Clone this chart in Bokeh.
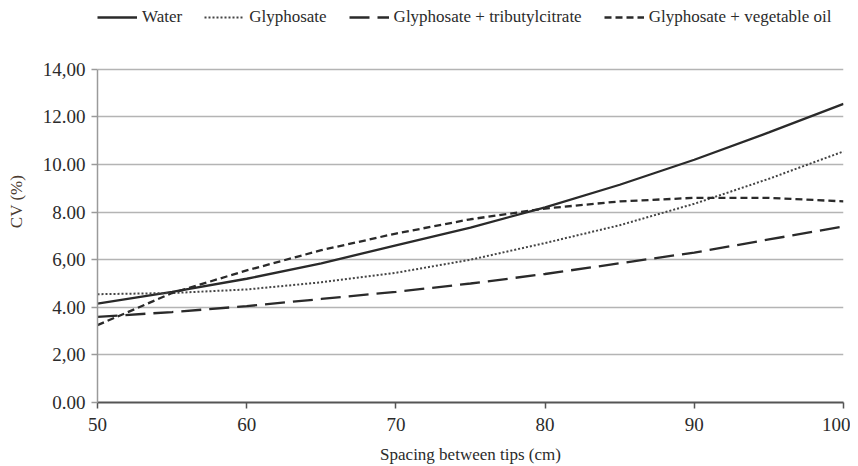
from bokeh.plotting import figure
from bokeh.models import Legend, LegendItem, FixedTicker, Range1d
from bokeh.embed import file_html
from bokeh.resources import INLINE

spacing = [50, 55, 60, 65, 70, 75, 80, 85, 90, 95, 100]
water = [4.15, 4.65, 5.2, 5.85, 6.6, 7.35, 8.2, 9.15, 10.2, 11.35, 12.55]
glyphosate = [4.55, 4.6, 4.75, 5.05, 5.45, 6.0, 6.7, 7.45, 8.35, 9.4, 10.55]
gly_tributyl = [3.6, 3.8, 4.05, 4.35, 4.65, 5.0, 5.4, 5.85, 6.3, 6.85, 7.4]
gly_vegoil = [3.25, 4.6, 5.55, 6.4, 7.1, 7.7, 8.15, 8.45, 8.6, 8.6, 8.45]

y_ticks = [0, 2, 4, 6, 8, 10, 12, 14]
y_tick_labels = ["0.00", "2,00", "4.00", "6,00", "8.00", "10.00", "12.00", "14,00"]
x_ticks = [50, 60, 70, 80, 90, 100]

FONT = "Liberation Serif"
TXT = "#2b2b2b"

# frame extends to the top of the canvas so the legend can sit above the 14.00 line
y_top = 14 * 403 / 334

p = figure(width=850, height=466, output_backend="svg", toolbar_location=None,
           x_range=Range1d(50, 100), y_range=Range1d(0, y_top),
           min_border_left=97, min_border_right=7, min_border_top=0, min_border_bottom=63)
p.outline_line_color = None
p.background_fill_color = "white"

p.xgrid.grid_line_color = None
p.ygrid.grid_line_color = "#b4b4b4"
p.ygrid.grid_line_width = 1.5
p.ygrid.ticker = FixedTicker(ticks=y_ticks)

p.xaxis.ticker = FixedTicker(ticks=x_ticks)
p.xaxis.minor_tick_line_color = None
p.xaxis.major_tick_in = 0
p.xaxis.major_tick_out = 6
p.xaxis.axis_line_color = "#555555"
p.xaxis.axis_line_width = 2
p.xaxis.major_tick_line_color = "#555555"
p.xaxis.major_tick_line_width = 1.5
p.xaxis.major_label_text_font = FONT
p.xaxis.major_label_text_font_size = "19px"
p.xaxis.major_label_text_color = TXT
p.xaxis.major_label_standoff = 9
p.xaxis.axis_label = "Spacing between tips (cm)"
p.xaxis.axis_label_text_font = FONT
p.xaxis.axis_label_text_font_size = "17px"
p.xaxis.axis_label_text_font_style = "normal"
p.xaxis.axis_label_text_color = TXT
p.xaxis.axis_label_standoff = 11

p.yaxis.ticker = FixedTicker(ticks=y_ticks)
p.yaxis.bounds = (0, 14)
p.yaxis.major_label_overrides = {t: l for t, l in zip(y_ticks, y_tick_labels)}
p.yaxis.minor_tick_line_color = None
p.yaxis.major_tick_in = 0
p.yaxis.major_tick_out = 6
p.yaxis.axis_line_color = "#9a9a9a"
p.yaxis.axis_line_width = 1.5
p.yaxis.major_tick_line_color = "#9a9a9a"
p.yaxis.major_tick_line_width = 1.5
p.yaxis.major_label_text_font = FONT
p.yaxis.major_label_text_font_size = "19px"
p.yaxis.major_label_text_color = TXT
p.yaxis.major_label_standoff = 6
p.yaxis.axis_label = "CV (%)"
p.yaxis.axis_label_text_font = FONT
p.yaxis.axis_label_text_font_size = "17px"
p.yaxis.axis_label_text_font_style = "normal"
p.yaxis.axis_label_text_color = "#4a3a30"
p.yaxis.axis_label_standoff = 14

LC = "#2a2a2a"
r1 = p.line(spacing, water, line_color=LC, line_width=2.3)
r2 = p.line(spacing, glyphosate, line_color="#444444", line_width=2, line_dash="2 2")
r3 = p.line(spacing, gly_tributyl, line_color=LC, line_width=2.3, line_dash="20 8")
r4 = p.line(spacing, gly_vegoil, line_color=LC, line_width=2.3, line_dash="7 4")

legend = Legend(items=[
    LegendItem(label="Water", renderers=[r1]),
    LegendItem(label="Glyphosate", renderers=[r2]),
    LegendItem(label="Glyphosate + tributylcitrate", renderers=[r3]),
    LegendItem(label="Glyphosate + vegetable oil", renderers=[r4]),
], orientation="horizontal", location=(0, 375),
    label_text_font=FONT, label_text_font_size="17px", label_text_color=TXT,
    glyph_width=40, glyph_height=20, label_height=20, label_standoff=5,
    spacing=22, padding=0, margin=0, border_line_color=None,
    background_fill_alpha=0)
p.add_layout(legend, "center")

open("out.html", "w").write(file_html(p, INLINE))
